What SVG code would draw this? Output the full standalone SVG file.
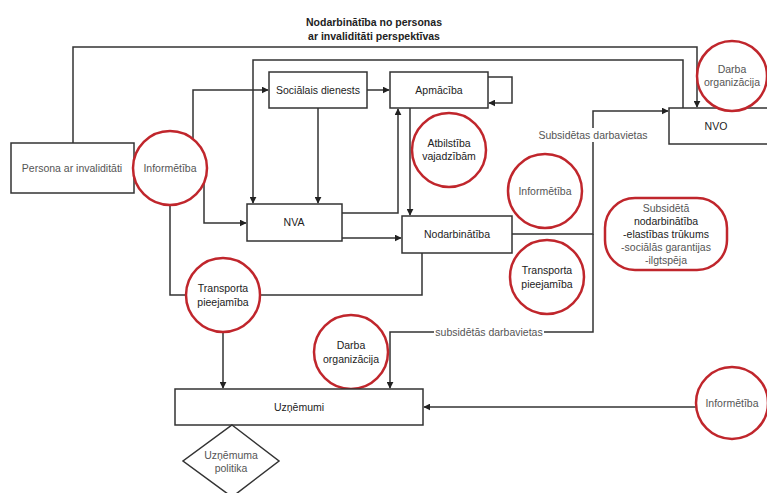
<svg xmlns="http://www.w3.org/2000/svg" width="767" height="493" viewBox="0 0 767 493">
<defs>
<marker id="arr" viewBox="0 0 10 10" refX="9" refY="5" markerWidth="7" markerHeight="7" markerUnits="userSpaceOnUse" orient="auto">
<path d="M0,0 L10,5 L0,10 z" fill="#222"/>
</marker>
<style>
text{font-family:"Liberation Sans",Arial,sans-serif;font-size:10.5px;fill:#222;text-anchor:middle;dominant-baseline:central}
.box{fill:#fff;stroke:#333;stroke-width:1.5}
.circ{fill:#fff;stroke:#c0262c;stroke-width:2.5}
.pill{fill:#fff;stroke:#c0262c;stroke-width:2.5}
.ln{fill:none;stroke:#333;stroke-width:1.5}
.la{fill:none;stroke:#333;stroke-width:1.5;marker-end:url(#arr)}
.gray{fill:#555}
.title{font-weight:bold;font-size:10.5px}
.lbl{fill:#555}
</style>
</defs>
<rect width="767" height="493" fill="#fff"/>

<g id="title">
<text class="title" x="374" y="22">Nodarbinātība no personas</text>
<text class="title" x="374" y="36">ar invaliditāti perspektīvas</text>
</g>

<g id="connectors">
<path class="la" d="M73,143 V47 H697 V107"/>
<path class="la" d="M683,108 V60 H253 V203"/>
<path class="la" d="M193,150 V90 H268"/>
<path class="la" d="M367,90 H389"/>
<path class="la" d="M488,77 H512 V103 H489"/>
<path class="la" d="M318,108 V203"/>
<path class="la" d="M342,213 H398 V109"/>
<path class="la" d="M342,238 H401"/>
<path class="la" d="M410,108 V215"/>
<path class="la" d="M204,175 V223 H246"/>
<path class="ln" d="M170,180 V295 H200"/>
<path class="ln" d="M240,295 H422 V253"/>
<path class="la" d="M223,320 V388"/>
<path class="la" d="M512,234 H593 V111 H668"/>
<path class="la" d="M593,234 V332 H390 V388"/>
<path class="la" d="M710,407 H424"/>
<rect x="535" y="128" width="116" height="14" fill="#fff"/>
<text class="lbl" x="593" y="135">Subsidētas darbavietas</text>
<rect x="434" y="326" width="110" height="13" fill="#fff"/>
<text class="lbl" x="489" y="332">subsidētās darbavietas</text>
</g>

<g id="persona">
<rect class="box" x="11" y="143" width="123" height="50"/>
<text class="gray" x="72" y="168">Persona ar invaliditāti</text>
</g>
<g id="info1">
<circle class="circ" cx="170" cy="168" r="37"/>
<text class="gray" x="170" y="168">Informētība</text>
</g>
<g id="socialais">
<rect class="box" x="269" y="72" width="98" height="36"/>
<text x="318" y="90">Sociālais dienests</text>
</g>
<g id="apmaciba">
<rect class="box" x="390" y="72" width="98" height="36"/>
<text x="439" y="90">Apmācība</text>
</g>
<g id="nva">
<rect class="box" x="247" y="204" width="95" height="37"/>
<text x="294" y="222">NVA</text>
</g>
<g id="nodarbinatiba">
<rect class="box" x="402" y="216" width="110" height="37"/>
<text x="457" y="234">Nodarbinātība</text>
</g>
<g id="nvo">
<rect class="box" x="669" y="108" width="100" height="36"/>
<text x="716" y="126">NVO</text>
</g>
<g id="darba1">
<circle class="circ" cx="732" cy="76" r="35"/>
<text class="gray" x="732" y="69">Darba</text>
<text class="gray" x="732" y="82">organizācija</text>
</g>
<g id="atbilstiba">
<circle class="circ" cx="449" cy="150" r="37"/>
<text x="449" y="143">Atbilstība</text>
<text x="449" y="156">vajadzībām</text>
</g>
<g id="info2">
<circle class="circ" cx="545" cy="191" r="37"/>
<text class="gray" x="545" y="191">Informētība</text>
</g>
<g id="transport2">
<circle class="circ" cx="547" cy="277" r="37"/>
<text x="547" y="270">Transporta</text>
<text x="547" y="284">pieejamība</text>
</g>
<g id="subsideta">
<rect class="pill" x="605" y="198" width="122" height="72" rx="30" ry="30"/>
<text class="gray" x="666" y="208">Subsidētā</text>
<text x="666" y="221">nodarbinātība</text>
<text x="666" y="234">-elastības trūkums</text>
<text class="gray" x="666" y="247">-sociālās garantijas</text>
<text class="gray" x="666" y="260">-ilgtspēja</text>
</g>
<g id="transport1">
<circle class="circ" cx="223" cy="295" r="37"/>
<text x="223" y="288">Transporta</text>
<text x="223" y="302">pieejamība</text>
</g>
<g id="darba2">
<circle class="circ" cx="351" cy="352" r="37"/>
<text x="351" y="345">Darba</text>
<text x="351" y="359">organizācija</text>
</g>
<g id="uznemumi">
<rect class="box" x="175" y="389" width="248" height="36"/>
<text x="299" y="407">Uzņēmumi</text>
</g>
<g id="info3">
<circle class="circ" cx="732" cy="403" r="36"/>
<text class="gray" x="732" y="403">Informētība</text>
</g>
<g id="politika">
<polygon class="box" points="232,425 279,461 232,497 183,461"/>
<text class="gray" x="231" y="455">Uzņēmuma</text>
<text class="gray" x="231" y="468">politika</text>
</g>
</svg>
